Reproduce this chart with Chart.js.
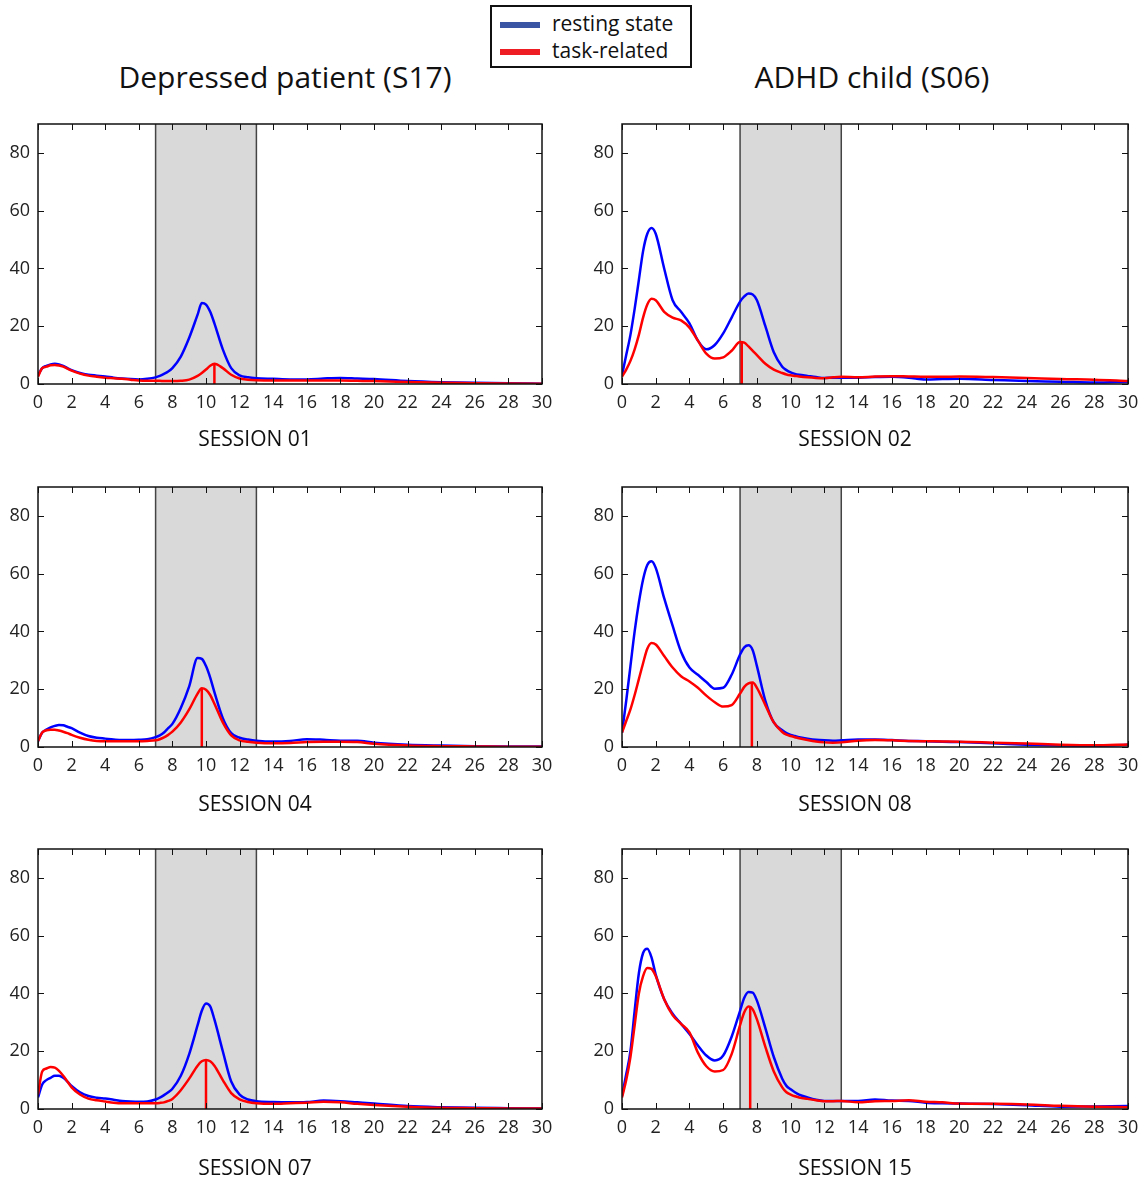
<!DOCTYPE html>
<html>
<head>
<meta charset="utf-8">
<script src="https://cdn.jsdelivr.net/npm/chart.js@4.4.1/dist/chart.umd.min.js"></script>
<style>
  body { margin: 0; background: #fff; font-family: "Open Sans", sans-serif; color: #111; }
  #page { position: relative; width: 1142px; height: 1182px; }
  .panel { position: absolute; }
  .coltitle { position: absolute; top: 57px; width: 500px; text-align: center; font-size: 30px; line-height: 40px; }
  .session { position: absolute; width: 200px; text-align: center; font-size: 21px; line-height: 28px; }
  #legend { position: absolute; left: 490px; top: 5px; width: 198px; height: 59px; border: 2px solid #111; }
  #legend .row { position: absolute; left: 8px; height: 26px; font-size: 21px; line-height: 26px; white-space: nowrap; }
  #legend .sw { display: inline-block; width: 40px; height: 6px; vertical-align: middle; margin-right: 12px; }
</style>
</head>
<body>
<div id="page">
  <div id="legend">
    <div class="row" style="top:3px"><span class="sw" style="background:#3a55a4"></span>resting state</div>
    <div class="row" style="top:30px"><span class="sw" style="background:#ee1d23"></span>task-related</div>
  </div>
  <div class="coltitle" style="left:35px">Depressed patient (S17)</div>
  <div class="coltitle" style="left:622px">ADHD child (S06)</div>

  <canvas class="panel" id="s01" width="560" height="340" style="left:0;top:114px"></canvas>
  <canvas class="panel" id="s02" width="558" height="340" style="left:584px;top:114px"></canvas>
  <canvas class="panel" id="s04" width="560" height="340" style="left:0;top:477px"></canvas>
  <canvas class="panel" id="s08" width="558" height="340" style="left:584px;top:477px"></canvas>
  <canvas class="panel" id="s07" width="560" height="340" style="left:0;top:839px"></canvas>
  <canvas class="panel" id="s15" width="558" height="340" style="left:584px;top:839px"></canvas>

  <div class="session" style="left:155px;top:424px">SESSION 01</div>
  <div class="session" style="left:755px;top:424px">SESSION 02</div>
  <div class="session" style="left:155px;top:789px">SESSION 04</div>
  <div class="session" style="left:755px;top:789px">SESSION 08</div>
  <div class="session" style="left:155px;top:1153px">SESSION 07</div>
  <div class="session" style="left:755px;top:1153px">SESSION 15</div>
</div>
<script>
// frequency grid (Hz) shared by every curve
const freqHz = [0, 0.25, 0.5, 0.75, 1, 1.25, 1.5, 1.75, 2, 2.5, 3, 3.5, 4, 4.5, 5, 5.5, 6, 6.5, 7, 7.25, 7.5, 7.75,
  8, 8.5, 9, 9.5, 9.75, 10, 10.25, 10.5, 11, 11.5, 12, 12.5, 13, 14, 15, 16, 17, 18, 19, 20, 22, 24, 26, 28, 30];

const xTicks = [0, 2, 4, 6, 8, 10, 12, 14, 16, 18, 20, 22, 24, 26, 28, 30];
const yTicks = [0, 20, 40, 60, 80];
const bandHz = [7, 13];

// Depressed patient (S17)
const rest01 = [3, 5.5, 6.3, 6.8, 7, 6.8, 6.3, 5.5, 4.8, 3.8, 3.2, 2.9, 2.6, 2.2, 1.9, 1.7, 1.6, 1.8, 2.3, 2.8, 3.5, 4.3,
  5.5, 9.5, 16, 24, 28, 27.5, 25, 21, 12, 5.5, 3, 2.3, 2, 1.8, 1.6, 1.6, 1.9, 2.1, 1.9, 1.7, 1.0, 0.6, 0.4, 0.3, 0.1];
const task01 = [2.5, 5.5, 6, 6.5, 6.6, 6.4, 6, 5.3, 4.6, 3.6, 2.9, 2.5, 2.2, 2, 1.8, 1.5, 1.2, 1.1, 1.1, 1.1, 1.0, 1.0,
  1.0, 1.1, 1.5, 2.8, 3.8, 5, 6.3, 7, 5.5, 3.2, 1.9, 1.5, 1.3, 1.2, 1.2, 1.2, 1.2, 1.2, 1.1, 1.0, 0.7, 0.4, 0.3, 0.2, 0.1];
const rest04 = [2, 5, 6, 6.8, 7.3, 7.6, 7.5, 7, 6.5, 5, 3.8, 3.2, 2.9, 2.6, 2.4, 2.4, 2.5, 2.7, 3.4, 4, 5, 6.5,
  8, 13.5, 21, 30.8, 30.5, 28, 24, 19, 10, 4.8, 3.2, 2.6, 2.2, 1.9, 2.1, 2.7, 2.5, 2.2, 2.2, 1.5, 0.8, 0.5, 0.3, 0.2, 0.2];
const task04 = [2, 5, 5.8, 6, 6, 5.7, 5.3, 4.8, 4.2, 3.2, 2.5, 2.1, 2, 2, 2, 2, 2, 2.1, 2.3, 2.7, 3.3, 4.2,
  5.3, 8.5, 13, 18.5, 20.3, 19.8, 18, 15, 8.5, 4, 2.3, 1.8, 1.5, 1.3, 1.4, 1.7, 1.8, 1.8, 1.7, 1.1, 0.5, 0.3, 0.2, 0.1, 0.1];
const rest07 = [4, 8.5, 10, 10.8, 11.5, 11.5, 10.8, 9.5, 8, 5.8, 4.5, 3.9, 3.6, 3.2, 2.8, 2.6, 2.5, 2.6, 3.3, 3.9, 4.8, 5.8,
  7, 11.5, 19, 29, 34, 36.5, 35.5, 31, 20, 9.5, 5, 3.3, 2.7, 2.4, 2.3, 2.4, 2.9, 2.7, 2.3, 1.9, 1.0, 0.6, 0.4, 0.3, 0.2];
const task07 = [5, 13, 14, 14.5, 14.3, 13.2, 11.5, 9.5, 7.5, 5, 3.6, 3, 2.6, 2.2, 2, 2, 2, 2, 2, 2.1, 2.3, 2.8,
  3.5, 6.5, 10.5, 15, 16.5, 17, 16.5, 15, 10, 5.5, 3.3, 2.4, 2, 1.8, 2.0, 2.2, 2.5, 2.3, 1.8, 1.4, 0.8, 0.4, 0.3, 0.2, 0.2];

// ADHD child (S06)
const rest02 = [3, 10, 17, 26, 36, 46, 52, 54, 52, 40, 29, 25, 21, 15, 12, 13.5, 17.5, 23, 28.5, 30.3, 31.3, 31,
  29, 20, 11, 6, 4.8, 4, 3.5, 3.2, 2.8, 2.4, 2.1, 2.2, 2.2, 2.2, 2.4, 2.5, 2.2, 1.6, 1.7, 1.8, 1.4, 1.0, 0.8, 0.5, 0.8];
const task02 = [2.5, 5, 8, 12, 17, 23, 27.5, 29.5, 29, 25, 23, 22, 19.5, 15, 10.5, 8.8, 9.2, 11.5, 14.5, 14.3, 13, 11.5,
  10, 7, 5, 3.8, 3.3, 3, 2.8, 2.6, 2.3, 2.1, 2.0, 2.3, 2.5, 2.3, 2.6, 2.7, 2.6, 2.5, 2.5, 2.6, 2.4, 2.1, 1.7, 1.5, 1.0];
const rest08 = [5, 16, 28, 40, 50, 58, 63, 64.3, 62, 51.5, 42, 33, 27.5, 25, 22.5, 20.2, 20.5, 25, 32, 34.5, 35.2, 33.5,
  28, 16, 8.5, 5.8, 4.8, 4.2, 3.8, 3.4, 2.9, 2.5, 2.3, 2.2, 2.3, 2.6, 2.6, 2.4, 2.1, 2.0, 1.8, 1.7, 1.3, 0.8, 0.5, 0.4, 0.8];
const task08 = [5, 9, 13, 18, 23.5, 29, 34, 36, 35.5, 31.5, 27.5, 24.5, 22.7, 20.5, 17.8, 15.5, 14, 14.5, 18.5, 20.8, 22, 22.3,
  20.5, 14.5, 8.5, 5.2, 4.3, 3.8, 3.4, 3.0, 2.4, 1.9, 1.6, 1.5, 1.6, 2.2, 2.4, 2.3, 2.1, 2.0, 1.9, 1.8, 1.5, 1.2, 0.8, 0.6, 0.9];
const rest15 = [4.5, 12, 20, 34, 47, 54, 55.5, 52.5, 46.5, 38, 33, 29.5, 26, 22, 18.5, 16.8, 18.5, 25, 34, 38.5, 40.5, 40.3,
  37.5, 28, 18, 10.5, 8, 6.8, 5.8, 5, 4, 3.2, 2.8, 2.8, 2.8, 2.8, 3.3, 2.9, 2.8, 2.2, 2.0, 1.9, 1.7, 1.3, 0.8, 0.9, 1.0];
const task15 = [4, 10, 18, 29, 40, 46, 48.8, 48.5, 46, 38, 32.5, 29.5, 26.5, 19.5, 14.8, 13, 13.5, 19, 29, 33.5, 35.5, 34.5,
  31, 21.5, 13, 7.5, 5.8, 5, 4.4, 4.0, 3.5, 3.0, 2.7, 2.7, 2.8, 2.3, 2.7, 2.8, 3.0, 2.5, 2.3, 1.9, 1.8, 1.6, 1.1, 0.8, 0.6];

// task-related peak marker (Hz, value) per session
const sessions = ['01', '02', '04', '08', '07', '15'];
const peakHz = [10.5, 7.1, 9.75, 7.7, 10, 7.6];
const peakVal = [7, 14.5, 20.3, 22.3, 17, 35.5];
const restSeries = [rest01, rest02, rest04, rest08, rest07, rest15];
const taskSeries = [task01, task02, task04, task08, task07, task15];
const rightColumn = [false, true, false, true, false, true];

const tickFont = { family: '"Open Sans", sans-serif', size: 18 };

// grey alpha band behind the curves, then box + inward ticks on top (matlab look)
const axesBox = {
  id: 'axesBox',
  beforeDatasetsDraw(chart) {
    const { ctx, chartArea: a, scales: { x } } = chart;
    const x0 = x.getPixelForValue(bandHz[0]);
    const x1 = x.getPixelForValue(bandHz[1]);
    ctx.save();
    ctx.fillStyle = '#d9d9d9';
    ctx.fillRect(x0, a.top, x1 - x0, a.bottom - a.top);
    ctx.strokeStyle = '#444';
    ctx.lineWidth = 1.5;
    ctx.beginPath();
    ctx.moveTo(x0, a.top); ctx.lineTo(x0, a.bottom);
    ctx.moveTo(x1, a.top); ctx.lineTo(x1, a.bottom);
    ctx.stroke();
    ctx.restore();
  },
  afterDatasetsDraw(chart) {
    const { ctx, chartArea: a, scales: { x, y } } = chart;
    const len = 6;
    ctx.save();
    ctx.strokeStyle = '#111';
    ctx.lineWidth = 1;
    ctx.beginPath();
    x.ticks.forEach(t => {
      const px = Math.round(x.getPixelForValue(t.value)) + 0.5;
      ctx.moveTo(px, a.bottom); ctx.lineTo(px, a.bottom - len);
      ctx.moveTo(px, a.top); ctx.lineTo(px, a.top + len);
    });
    y.ticks.forEach(t => {
      const py = Math.round(y.getPixelForValue(t.value)) + 0.5;
      ctx.moveTo(a.left, py); ctx.lineTo(a.left + len, py);
      ctx.moveTo(a.right, py); ctx.lineTo(a.right - len, py);
    });
    ctx.stroke();
    ctx.lineWidth = 1.5;
    ctx.strokeRect(a.left, a.top, a.right - a.left, a.bottom - a.top);
    ctx.restore();
  }
};

sessions.forEach((s, i) => {
  const toPoints = arr => arr.map((v, k) => ({ x: freqHz[k], y: v }));
  new Chart(document.getElementById('s' + s), {
    type: 'line',
    data: {
      datasets: [
        {
          label: 'task-related',
          data: toPoints(taskSeries[i]),
          borderColor: '#ff0000',
          borderWidth: 2.5,
          pointRadius: 0,
          cubicInterpolationMode: 'monotone',
          order: 1
        },
        {
          label: 'peak',
          data: [{ x: peakHz[i], y: 0 }, { x: peakHz[i], y: peakVal[i] }],
          borderColor: '#ff0000',
          borderWidth: 2.5,
          pointRadius: 0,
          order: 1
        },
        {
          label: 'resting state',
          data: toPoints(restSeries[i]),
          borderColor: '#0000ff',
          borderWidth: 2.5,
          pointRadius: 0,
          cubicInterpolationMode: 'monotone',
          order: 2
        }
      ]
    },
    options: {
      responsive: false,
      animation: false,
      layout: { padding: { top: 10, right: rightColumn[i] ? 14 : 18, left: 0, bottom: 0 } },
      plugins: { legend: { display: false }, tooltip: { enabled: false } },
      scales: {
        x: {
          type: 'linear',
          min: 0,
          max: 30,
          afterBuildTicks: sc => { sc.ticks = xTicks.map(v => ({ value: v })); },
          afterFit: sc => { sc.height = 70; sc.paddingLeft = 0; sc.paddingRight = 0; },
          grid: { display: false, drawTicks: false },
          border: { display: false },
          ticks: { color: '#222', font: tickFont, padding: 8, maxRotation: 0, autoSkip: false }
        },
        y: {
          min: 0,
          max: 90,
          afterBuildTicks: sc => { sc.ticks = yTicks.map(v => ({ value: v })); },
          afterFit: sc => { sc.width = 38; sc.paddingTop = 0; sc.paddingBottom = 0; },
          grid: { display: false, drawTicks: false },
          border: { display: false },
          ticks: { color: '#222', font: tickFont, padding: 8 }
        }
      }
    },
    plugins: [axesBox]
  });
});
</script>
</body>
</html>
